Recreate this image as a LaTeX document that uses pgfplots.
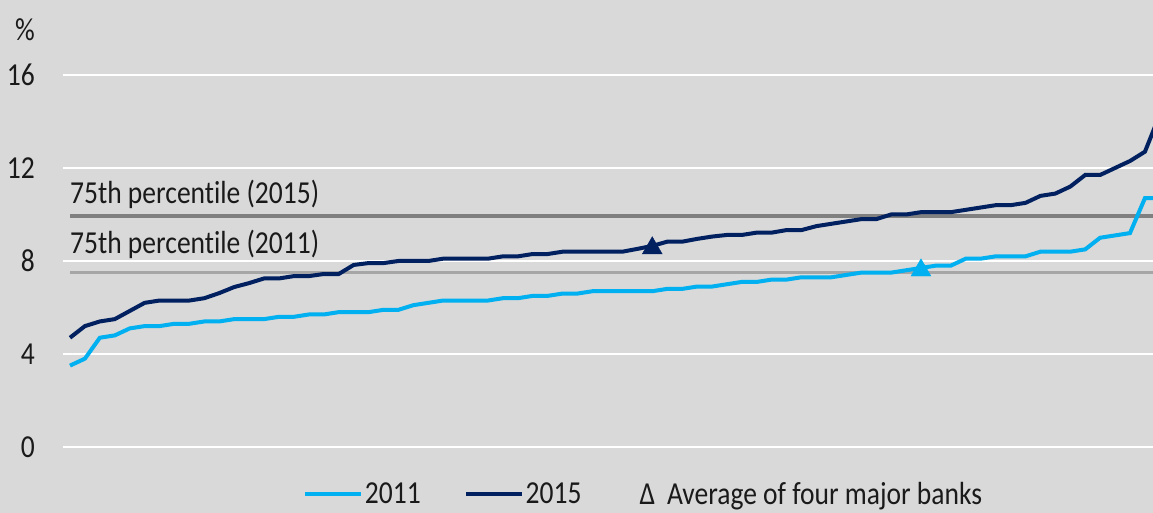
\documentclass[border=0pt]{standalone}
\usepackage{fontspec}
\setmainfont{Carlito}[FakeStretch=0.86, Ligatures=NoCommon]
\usepackage{pgfplots}
\usepackage{pgfplotstable}
\pgfplotsset{compat=1.18}

\definecolor{bg}{HTML}{D9D9D9}
\definecolor{lightb}{HTML}{00B0F0}
\definecolor{navy}{HTML}{002060}
\definecolor{pgrayA}{HTML}{808080}
\definecolor{pgrayB}{HTML}{A6A6A6}
\definecolor{txt}{HTML}{1A1A1A}
\newcommand\bigf{\fontsize{32}{36}\selectfont}

% banks ranked by ratio, 2011
\pgfplotstableread{
k y
0 3.5
1 3.8
2 4.7
3 4.8
4 5.1
5 5.2
6 5.2
7 5.3
8 5.3
9 5.4
10 5.4
11 5.5
12 5.5
13 5.5
14 5.6
15 5.6
16 5.7
17 5.7
18 5.8
19 5.8
20 5.8
21 5.9
22 5.9
23 6.1
24 6.2
25 6.3
26 6.3
27 6.3
28 6.3
29 6.4
30 6.4
31 6.5
32 6.5
33 6.6
34 6.6
35 6.7
36 6.7
37 6.7
38 6.7
39 6.7
40 6.8
41 6.8
42 6.9
43 6.9
44 7.0
45 7.1
46 7.1
47 7.2
48 7.2
49 7.3
50 7.3
51 7.3
52 7.4
53 7.5
54 7.5
55 7.5
56 7.6
57 7.7
58 7.8
59 7.8
60 8.1
61 8.1
62 8.2
63 8.2
64 8.2
65 8.4
66 8.4
67 8.4
68 8.5
69 9.0
70 9.1
71 9.2
72 10.7
73 10.7
}\yrA

% 2015
\pgfplotstableread{
k y
0 4.7
1 5.2
2 5.4
3 5.5
4 5.85
5 6.2
6 6.3
7 6.3
8 6.3
9 6.4
10 6.62
11 6.88
12 7.05
13 7.25
14 7.25
15 7.35
16 7.35
17 7.44
18 7.44
19 7.83
20 7.91
21 7.91
22 8.0
23 8.0
24 8.0
25 8.1
26 8.1
27 8.1
28 8.1
29 8.2
30 8.2
31 8.3
32 8.3
33 8.4
34 8.4
35 8.4
36 8.4
37 8.4
38 8.52
39 8.65
40 8.83
41 8.83
42 8.95
43 9.05
44 9.12
45 9.12
46 9.22
47 9.22
48 9.33
49 9.33
50 9.5
51 9.6
52 9.7
53 9.8
54 9.8
55 10.0
56 10.0
57 10.1
58 10.1
59 10.1
60 10.2
61 10.3
62 10.4
63 10.4
64 10.5
65 10.8
66 10.9
67 11.2
68 11.7
69 11.7
70 12.0
71 12.3
72 12.7
73 14.3
}\yrB

\begin{document}
\begin{tikzpicture}[x=1pt,y=1pt]
\fill[bg] (0,0) rectangle (1153,513);
\useasboundingbox (0,0) rectangle (1153,513);
\begin{axis}[
    at={(63pt,66pt)}, anchor=south west,
    scale only axis, width=1090pt, height=372pt,
    xmin=-0.469, xmax=72.54, ymin=0, ymax=16,
    axis line style={draw=none},
    xtick=\empty, ytick={0,4,8,12,16},
    major tick length=0pt,
    ymajorgrids, grid style={white, line width=2pt},
    tick label style={font=\bigf, text=txt},
    /pgf/number format/assume math mode=true,
    yticklabel style={anchor=east, inner sep=0pt, xshift=-28pt},
    legend style={at={(0.5326,-0.127)}, anchor=center, draw=none, fill=none,
        font=\bigf, text=txt, legend columns=3,
        nodes={inner sep=1.5pt},
        /tikz/every even column/.append style={column sep=42pt}},
    legend cell align=left,
    legend image code/.code={\draw[#1] (0pt,0pt) -- (56pt,0pt);},
]
\addplot[pgrayA, line width=3.5pt, forget plot] coordinates {(0,9.94) (80,9.94)};
\addplot[pgrayB, line width=3.5pt, forget plot] coordinates {(0,7.5) (80,7.5)};
\node[anchor=base west, inner sep=0pt, font=\bigf, text=txt] at (axis cs:0,10.49) {75th percentile (2015)};
\node[anchor=base west, inner sep=0pt, font=\bigf, text=txt] at (axis cs:0,8.34) {75th percentile (2011)};

\addplot[lightb, line width=4pt] table[x=k, y=y] {\yrA};
\addlegendentry{2011}
\addplot[navy, line width=4pt] table[x=k, y=y] {\yrB};
\addlegendentry{2015}
\addlegendimage{empty legend}
\addlegendentry{\hspace{13pt}Δ\hspace{12pt}Average of four major banks}

\addplot[only marks, mark=triangle*, mark size=11.5pt, color=navy, forget plot] coordinates {(39,8.55)};
\addplot[only marks, mark=triangle*, mark size=11.5pt, color=lightb, forget plot] coordinates {(57,7.6)};
\end{axis}
\node[anchor=east, inner sep=0pt, font=\bigf, text=txt] at (35,483) {\%};
\end{tikzpicture}
\end{document}
